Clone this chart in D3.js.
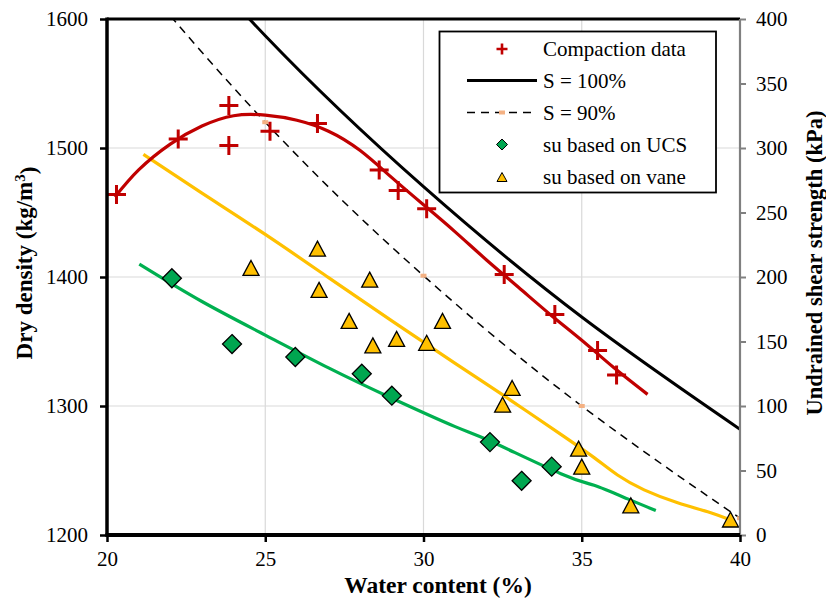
<!DOCTYPE html>
<html>
<head>
<meta charset="utf-8">
<script src="https://cdn.jsdelivr.net/npm/d3@7"></script>
<style>
  html, body { margin: 0; padding: 0; background: #fff; }
  svg { display: block; }
</style>
</head>
<body>
<svg id="chart" width="826" height="599"></svg>
<script>
// ---- data ----
// compaction test points: water content (%) and dry density (kg/m3)
const compW   = [20.3, 22.25, 23.85, 23.85, 25.15, 26.65, 28.6, 29.2, 30.1, 32.55, 34.15, 35.5, 36.1];
const compRho = [1464, 1507, 1533, 1502, 1513, 1519, 1483, 1467, 1453, 1402, 1371, 1343, 1324];

// fitted compaction curve
const compFitW   = [20.25, 21, 22, 23, 24, 25, 26, 27, 28, 29, 30, 31, 32, 33, 34, 35, 36, 37.08];
const compFitRho = [1462, 1483, 1503, 1517, 1525, 1525.5, 1521.5, 1513, 1498, 1477, 1456, 1435, 1413, 1392, 1371, 1351, 1330, 1309];

// zero-air-voids (S = 100%) and S = 90% curves
const satW     = [20, 25, 30, 35, 40];
const sat100   = [1724, 1587, 1470, 1369, 1282];
const sat90    = [1660, 1520, 1401, 1300, 1213];

// undrained shear strength from UCS (kPa)
const ucsW  = [22.05, 23.95, 25.95, 28.05, 29.0, 32.1, 33.1, 34.05];
const ucsSu = [199, 148, 138, 125, 108, 72, 42, 53];
const ucsFitW  = [21.02, 23, 25, 27, 29, 31, 32.09, 34.34, 35.39, 36.45, 37.34];
const ucsFitSu = [210, 181, 155, 129.5, 106, 84, 73, 47.5, 38.5, 28, 19];

// undrained shear strength from vane (kPa)
const vaneW  = [24.55, 26.65, 26.7, 27.65, 28.3, 28.4, 29.15, 30.1, 30.6, 32.5, 32.8, 34.9, 35.0, 36.55, 39.7];
const vaneSu = [207, 222, 190, 166, 198, 147, 152, 149, 166, 101, 114, 67, 53, 23, 12];
const vaneFitW  = [21.15, 23, 25, 27, 29, 31, 32.54, 34.34, 35.39, 36.13, 36.97, 38.03, 38.98, 39.66];
const vaneFitSu = [295, 265, 233, 199.5, 166, 133, 108, 78, 60, 46.5, 35, 25, 18, 12];

// axis ticks
const xTicks  = [20, 25, 30, 35, 40];
const yLTicks = [1200, 1300, 1400, 1500, 1600];
const yRTicks = [0, 50, 100, 150, 200, 250, 300, 350, 400];

const legendItems = ["Compaction data", "S = 100%", "S = 90%", "su based on UCS", "su based on vane"];

// ---- layout ----
const FONT = "Liberation Serif";
const L = 107, R = 740, T = 19, B = 535;
const svg = d3.select("#chart").style("font-family", FONT);
const x  = d3.scaleLinear().domain([20, 40]).range([L, R]);
const yL = d3.scaleLinear().domain([1200, 1600]).range([B, T]);
const yR = d3.scaleLinear().domain([0, 400]).range([B, T]);

const RED = "#C00000", GREEN = "#00B050", DGREEN = "#00A650", YEL = "#FFC000", SALMON = "#F4B183";

svg.append("defs").append("clipPath").attr("id", "plotClip")
  .append("rect").attr("x", L).attr("y", T).attr("width", R - L).attr("height", B - T);

// gridlines
const grid = svg.append("g");
grid.selectAll(".gx").data(xTicks.slice(1, -1)).join("line")
  .attr("x1", d => x(d)).attr("x2", d => x(d)).attr("y1", T).attr("y2", B)
  .attr("stroke", "#d9d9d9").attr("stroke-width", 1.2);
grid.selectAll(".gy").data(yLTicks.slice(1, -1)).join("line")
  .attr("x1", L).attr("x2", R).attr("y1", d => yL(d)).attr("y2", d => yL(d))
  .attr("stroke", "#d9d9d9").attr("stroke-width", 1.2);

const plot = svg.append("g").attr("clip-path", "url(#plotClip)");
const smooth = d3.curveNatural;
const lineL = d3.line().x(d => x(d[0])).y(d => yL(d[1])).curve(smooth);
const lineR = d3.line().x(d => x(d[0])).y(d => yR(d[1])).curve(smooth);
const zip = (a, b) => a.map((v, i) => [v, b[i]]);

// saturation lines
plot.append("path").datum(zip(satW, sat100)).attr("d", lineL)
  .attr("fill", "none").attr("stroke", "#000").attr("stroke-width", 3);
plot.append("path").datum(zip(satW, sat90)).attr("d", lineL)
  .attr("fill", "none").attr("stroke", "#000").attr("stroke-width", 1.5)
  .attr("stroke-dasharray", "8,6");
plot.selectAll(".s90m").data(zip(satW, sat90)).join("rect")
  .attr("x", d => x(d[0]) - 3).attr("y", d => yL(d[1]) - 2)
  .attr("width", 6).attr("height", 4).attr("fill", SALMON);

// fitted curves
plot.append("path").datum(zip(ucsFitW, ucsFitSu)).attr("d", lineR)
  .attr("fill", "none").attr("stroke", GREEN).attr("stroke-width", 3.2);
plot.append("path").datum(zip(vaneFitW, vaneFitSu)).attr("d", lineR)
  .attr("fill", "none").attr("stroke", YEL).attr("stroke-width", 3.2);
plot.append("path").datum(zip(compFitW, compFitRho)).attr("d", lineL)
  .attr("fill", "none").attr("stroke", RED).attr("stroke-width", 3.2);

// marker shapes
function plusPath(cx, cy, h) {
  return `M${cx - h},${cy}H${cx + h}M${cx},${cy - h}V${cy + h}`;
}
function diamondPath(cx, cy, h) {
  return `M${cx},${cy - h}L${cx + h},${cy}L${cx},${cy + h}L${cx - h},${cy}Z`;
}
function trianglePath(cx, cy, w, h) {
  return `M${cx},${cy - h / 2}L${cx + w / 2},${cy + h / 2}L${cx - w / 2},${cy + h / 2}Z`;
}

const marks = svg.append("g");
marks.selectAll(".ucs").data(zip(ucsW, ucsSu)).join("path")
  .attr("d", d => diamondPath(x(d[0]), yR(d[1]), 9.5))
  .attr("fill", DGREEN).attr("stroke", "#000").attr("stroke-width", 1.3);
marks.selectAll(".vane").data(zip(vaneW, vaneSu)).join("path")
  .attr("d", d => trianglePath(x(d[0]), yR(d[1]), 16, 15))
  .attr("fill", YEL).attr("stroke", "#000").attr("stroke-width", 1.3);
marks.selectAll(".comp").data(zip(compW, compRho)).join("path")
  .attr("d", d => plusPath(x(d[0]), yL(d[1]), 9.5))
  .attr("fill", "none").attr("stroke", RED).attr("stroke-width", 3);

// axes
function styleTicks(g) {
  g.attr("font-family", null).attr("font-size", null);
  g.selectAll(".tick text").style("font-family", FONT).style("font-size", "21px").attr("fill", "#000");
}
// top border
svg.append("line").attr("x1", L).attr("x2", R).attr("y1", T).attr("y2", T)
  .attr("stroke", "#000").attr("stroke-width", 3);
// right axis (grey)
const right = svg.append("g").attr("transform", `translate(${R},0)`)
  .call(d3.axisRight(yR).tickValues(yRTicks).tickSize(6).tickPadding(10).tickFormat(d3.format("d")));
right.select(".domain").attr("stroke", "#808080").attr("stroke-width", 2.2).attr("d", `M0,${T}V${B}`);
right.selectAll(".tick line").attr("stroke", "#808080").attr("stroke-width", 2);
styleTicks(right);

// left axis
const left = svg.append("g").attr("transform", `translate(${L},0)`)
  .call(d3.axisLeft(yL).tickValues(yLTicks).tickSize(7).tickPadding(12).tickFormat(d3.format("d")));
left.select(".domain").attr("stroke", "#000").attr("stroke-width", 3.5).attr("d", `M0,${T - 1.5}V${B + 1.5}`);
left.selectAll(".tick line").attr("stroke", "#000").attr("stroke-width", 2.5);
styleTicks(left);

// bottom axis
const bottom = svg.append("g").attr("transform", `translate(0,${B})`)
  .call(d3.axisBottom(x).tickValues(xTicks).tickSize(7).tickPadding(9).tickFormat(d3.format("d")));
bottom.select(".domain").attr("stroke", "#000").attr("stroke-width", 4).attr("d", `M${L - 1.5},0H${R}`);
bottom.selectAll(".tick line").attr("stroke", "#000").attr("stroke-width", 2.5);
styleTicks(bottom);

// axis titles
svg.append("text").attr("x", 438).attr("y", 593).attr("text-anchor", "middle")
  .style("font-family", FONT).style("font-size", "23.5px").style("font-weight", "bold")
  .text("Water content (%)");
const yt = svg.append("text").attr("transform", "translate(32,263) rotate(-90)")
  .attr("text-anchor", "middle")
  .style("font-family", FONT).style("font-size", "23px").style("font-weight", "bold");
yt.append("tspan").text("Dry density (kg/m");
yt.append("tspan").attr("dy", "-0.45em").style("font-size", "15px").text("3");
yt.append("tspan").attr("dy", "0.45em").text(")");
svg.append("text").attr("transform", "translate(822,263) rotate(-90)")
  .attr("text-anchor", "middle")
  .style("font-family", FONT).style("font-size", "22.5px").style("font-weight", "bold")
  .text("Undrained shear strength (kPa)");

// legend
const lg = svg.append("g");
lg.append("rect").attr("x", 439.5).attr("y", 31.5).attr("width", 276.5).attr("height", 161)
  .attr("fill", "#fff").attr("stroke", "#000").attr("stroke-width", 1.8);
const rowY = [49, 80.5, 112.5, 144.5, 177];
const symX = 502;
lg.append("path").attr("d", plusPath(symX, rowY[0], 5.5))
  .attr("stroke", RED).attr("stroke-width", 2.6).attr("fill", "none");
lg.append("line").attr("x1", 467).attr("x2", 537).attr("y1", rowY[1]).attr("y2", rowY[1])
  .attr("stroke", "#000").attr("stroke-width", 3);
lg.append("line").attr("x1", 467).attr("x2", 537).attr("y1", rowY[2]).attr("y2", rowY[2])
  .attr("stroke", "#000").attr("stroke-width", 1.5).attr("stroke-dasharray", "8,6");
lg.append("rect").attr("x", symX - 3).attr("y", rowY[2] - 2).attr("width", 6).attr("height", 4).attr("fill", SALMON);
lg.append("path").attr("d", diamondPath(symX, rowY[3], 5.5))
  .attr("fill", DGREEN).attr("stroke", "#000").attr("stroke-width", 1);
lg.append("path").attr("d", trianglePath(symX, rowY[4], 10, 9))
  .attr("fill", YEL).attr("stroke", "#000").attr("stroke-width", 1);
lg.selectAll(".lt").data(legendItems).join("text")
  .attr("x", 543).attr("y", (d, i) => rowY[i]).attr("dy", "0.35em")
  .style("font-family", FONT).style("font-size", "21px").text(d => d);
</script>
</body>
</html>
